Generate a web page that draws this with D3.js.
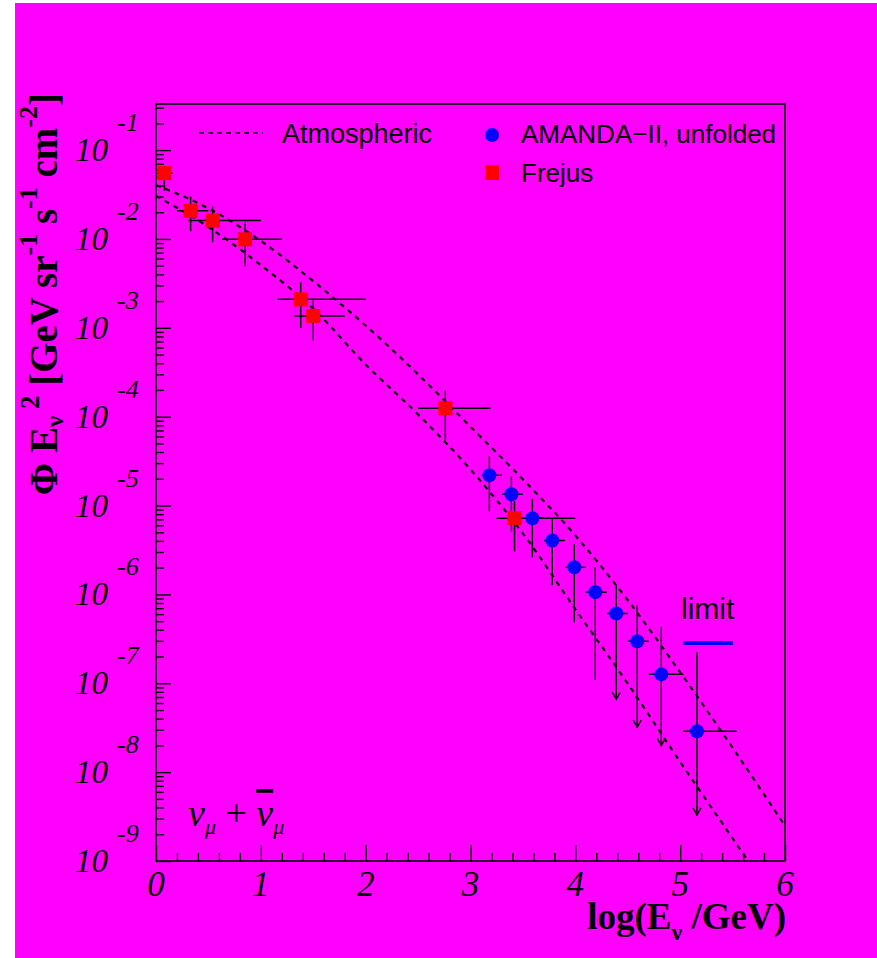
<!DOCTYPE html>
<html><head><meta charset="utf-8">
<script src="https://cdn.jsdelivr.net/npm/d3@7"></script>
<style>body{margin:0;background:#fff} svg{display:block}</style>
</head><body><svg id="c" width="877" height="958"></svg>
<script>
// ---- data ----
const atmLogE   = [0, 0.5, 1, 1.5, 2, 2.5, 3, 3.5, 4, 4.5, 5, 5.5, 6];
const atmUpper  = [4.03e-2, 2.21e-2, 9.5e-3, 3.35e-3, 1.06e-3, 2.99e-4, 7.7e-5, 1.97e-5, 4.6e-6, 8.6e-7, 1.33e-7, 1.88e-8, 2.48e-9];
const atmLower  = [3.05e-2, 1.36e-2, 5.07e-3, 1.64e-3, 3.85e-4, 1.06e-4, 2.54e-5, 4.84e-6, 6.8e-7, 9.9e-8, 1.30e-8, 1.80e-9, 2.5e-10];

const frejusLogE   = [0.08, 0.33, 0.54, 0.85, 1.38, 1.50, 2.76, 3.42];
const frejusLogELo = [0.00, 0.20, 0.31, 0.63, 1.16, 1.32, 2.50, 3.25];
const frejusLogEHi = [0.16, 0.50, 1.00, 1.20, 2.00, 1.80, 3.19, 4.00];
const frejusFlux   = [5.5e-2, 2.07e-2, 1.61e-2, 9.9e-3, 2.09e-3, 1.36e-3, 1.24e-4, 7.2e-6];
const frejusFluxLo = [3.5e-2, 1.22e-2, 9.2e-3, 4.93e-3, 9.9e-4, 7.2e-4, 5.4e-5, 3.05e-6];
const frejusFluxHi = [6.6e-2, 3.0e-2, 2.33e-2, 1.53e-2, 3.25e-3, 2.04e-3, 1.98e-4, 1.12e-5];

const amandaLogE   = [3.18, 3.39, 3.59, 3.78, 3.99, 4.19, 4.39, 4.59, 4.82, 5.16];
const amandaLogELo = [3.11, 3.30, 3.50, 3.70, 3.90, 4.10, 4.30, 4.50, 4.70, 5.03];
const amandaLogEHi = [3.30, 3.50, 3.70, 3.90, 4.10, 4.30, 4.50, 4.70, 5.03, 5.54];
const amandaFlux   = [2.19e-5, 1.34e-5, 7.2e-6, 4.04e-6, 2.02e-6, 1.06e-6, 6.1e-7, 2.97e-7, 1.26e-7, 2.89e-8];
const amandaFluxLo = [8.6e-6, 5.1e-6, 2.62e-6, 1.27e-6, 4.85e-7, 1.08e-7, 6.6e-8, 3.2e-8, 2.0e-8, 3.3e-9];
const amandaFluxHi = [3.58e-5, 2.13e-5, 1.18e-5, 7.0e-6, 3.66e-6, 2.02e-6, 1.27e-6, 7.6e-7, 4.3e-7, 2.23e-7];
const amandaArrow  = [false, false, false, false, false, false, true, true, true, true];

const xTickValues = [0, 1, 2, 3, 4, 5, 6];
const xMinorStep = 0.2;
const yTickExponents = [-1, -2, -3, -4, -5, -6, -7, -8, -9];

// ---- layout ----
const svg = d3.select("#c");
const L = 156, R = 785, T = 104, B = 861;
const x = d3.scaleLinear().domain([0, 6]).range([L, R]);
const y = d3.scaleLog().domain([1e-9, 0.33]).range([B, T]);

const MAG = "#ff00ff";
const serif = "'Liberation Serif','Times New Roman',serif";
const sans = "'Liberation Sans',Arial,Helvetica,sans-serif";

svg.append("rect").attr("x", 15).attr("y", 3).attr("width", 862).attr("height", 955).attr("fill", MAG);

svg.append("defs").append("clipPath").attr("id", "clip")
  .append("rect").attr("x", L).attr("y", T).attr("width", R - L).attr("height", B - T);

// ---- axes ----
const xMinor = d3.range(0, 6 + 1e-9, xMinorStep).filter(v => Math.abs(v - Math.round(v)) > 1e-6);
const gx = svg.append("g").attr("transform", `translate(0,${B})`);
gx.call(d3.axisBottom(x).tickValues(xTickValues).tickSize(-16).tickFormat(""));
const gx2 = svg.append("g").attr("transform", `translate(0,${B})`);
gx2.call(d3.axisBottom(x).tickValues(xMinor).tickSize(-8).tickFormat(""));

const yMajor = yTickExponents.map(e => Math.pow(10, e));
const yMinor = [];
yTickExponents.forEach(e => { for (let k = 2; k <= 9; k++) { const v = k * Math.pow(10, e); if (v < 0.33) yMinor.push(v); } });
const gy = svg.append("g").attr("transform", `translate(${L},0)`);
gy.call(d3.axisLeft(y).tickValues(yMajor).tickSize(-15).tickFormat(""));
const gy2 = svg.append("g").attr("transform", `translate(${L},0)`);
gy2.call(d3.axisLeft(y).tickValues(yMinor).tickSize(-8).tickFormat(""));
svg.selectAll(".domain").remove();
svg.selectAll(".tick line").attr("stroke", "#000").attr("stroke-width", 1.4);

// frame
svg.append("rect").attr("x", L).attr("y", T).attr("width", R - L).attr("height", B - T)
  .attr("fill", "none").attr("stroke", "#000").attr("stroke-width", 1.6);

// x tick labels
svg.append("g").selectAll("text").data(xTickValues).join("text")
  .attr("x", d => x(d)).attr("y", 896).attr("text-anchor", "middle")
  .attr("font-family", serif).attr("font-style", "italic").attr("font-size", 35)
  .text(d => d);

// y tick labels 10^e
const yl = svg.append("g");
yTickExponents.forEach(e => {
  const py = y(Math.pow(10, e));
  yl.append("text").attr("x", 108).attr("y", py + 11).attr("text-anchor", "end")
    .attr("font-family", serif).attr("font-style", "italic").attr("font-size", 33).text("10");
  yl.append("text").attr("x", 117).attr("y", py - 19)
    .attr("font-family", serif).attr("font-style", "italic").attr("font-size", 26).text(String(e));
});

// axis titles
const xt = svg.append("text").attr("x", 786).attr("y", 929).attr("text-anchor", "end")
  .attr("font-family", serif).attr("font-weight", "bold").attr("font-size", 37);
xt.append("tspan").text("log(E");
xt.append("tspan").attr("font-size", 24).attr("dy", 11).text("ν");
xt.append("tspan").attr("dy", -11).text(" /GeV)");

const yt = svg.append("text").attr("transform", "translate(57,93) rotate(-90)").attr("text-anchor", "end")
  .attr("font-family", serif).attr("font-weight", "bold").attr("font-size", 39);
yt.append("tspan").text("Φ E");
yt.append("tspan").attr("font-size", 25).attr("dy", 6).text("ν");
yt.append("tspan").attr("font-size", 27).attr("dy", -24).text(" 2");
yt.append("tspan").attr("dy", 18).text(" [GeV sr");
yt.append("tspan").attr("font-size", 26).attr("dy", -20).text("-1");
yt.append("tspan").attr("dy", 20).text(" s");
yt.append("tspan").attr("font-size", 26).attr("dy", -20).text("-1");
yt.append("tspan").attr("dy", 20).text(" cm");
yt.append("tspan").attr("font-size", 26).attr("dy", -20).text("-2");
yt.append("tspan").attr("dy", 20).text("]");

// ---- curves ----
const plot = svg.append("g").attr("clip-path", "url(#clip)");
const line = d3.line().x(d => x(d[0])).y(d => y(d[1])).curve(d3.curveMonotoneX);
[atmUpper, atmLower].forEach(arr => {
  plot.append("path").datum(atmLogE.map((e, i) => [e, arr[i]]))
    .attr("d", line).attr("fill", "none").attr("stroke", "#000")
    .attr("stroke-width", 2.2).attr("stroke-dasharray", "5,5");
});

// ---- error bars ----
const eb = svg.append("g").attr("stroke", "#000").attr("stroke-width", 1.5);
frejusLogE.forEach((e, i) => {
  eb.append("line").attr("x1", x(frejusLogELo[i])).attr("x2", x(frejusLogEHi[i]))
    .attr("y1", y(frejusFlux[i])).attr("y2", y(frejusFlux[i]));
  eb.append("line").attr("x1", x(e)).attr("x2", x(e))
    .attr("y1", y(frejusFluxLo[i])).attr("y2", y(frejusFluxHi[i]));
});
amandaLogE.forEach((e, i) => {
  eb.append("line").attr("x1", x(amandaLogELo[i])).attr("x2", x(amandaLogEHi[i]))
    .attr("y1", y(amandaFlux[i])).attr("y2", y(amandaFlux[i]));
  eb.append("line").attr("x1", x(e)).attr("x2", x(e))
    .attr("y1", y(amandaFluxLo[i])).attr("y2", y(amandaFluxHi[i]));
  if (amandaArrow[i]) {
    const px = x(e), py = y(amandaFluxLo[i]);
    eb.append("path").attr("fill", "none").attr("d", `M${px - 4},${py - 7}L${px},${py}L${px + 4},${py - 7}`);
  }
});

// ---- markers ----
svg.append("g").selectAll("rect").data(frejusLogE).join("rect")
  .attr("x", (d) => x(d) - 7).attr("y", (d, i) => y(frejusFlux[i]) - 7)
  .attr("width", 14).attr("height", 14).attr("fill", "#ff0000");
svg.append("g").selectAll("circle").data(amandaLogE).join("circle")
  .attr("cx", d => x(d)).attr("cy", (d, i) => y(amandaFlux[i])).attr("r", 7).attr("fill", "#0000ff");

// ---- legend ----
svg.append("line").attr("x1", 199).attr("x2", 263).attr("y1", 133).attr("y2", 133)
  .attr("stroke", "#000").attr("stroke-width", 1.5).attr("stroke-dasharray", "5,4");
svg.append("text").attr("x", 282).attr("y", 143).attr("font-family", sans).attr("font-size", 27).text("Atmospheric");
svg.append("circle").attr("cx", 492).attr("cy", 135).attr("r", 7).attr("fill", "#0000ff");
svg.append("text").attr("x", 521).attr("y", 143).attr("font-family", sans).attr("font-size", 26).text("AMANDA−II, unfolded");
svg.append("rect").attr("x", 485).attr("y", 165).attr("width", 14).attr("height", 15).attr("fill", "#ff0000");
svg.append("text").attr("x", 521).attr("y", 182).attr("font-family", sans).attr("font-size", 26).text("Frejus");

// limit annotation
svg.append("text").attr("x", 681).attr("y", 619).attr("font-family", sans).attr("font-size", 30).text("limit");
svg.append("line").attr("x1", 683).attr("x2", 733).attr("y1", 643).attr("y2", 643)
  .attr("stroke", "#0000ff").attr("stroke-width", 4);

// nu label
const nl = svg.append("text").attr("x", 188).attr("y", 826)
  .attr("font-family", serif).attr("font-style", "italic").attr("font-size", 38);
nl.append("tspan").text("ν");
nl.append("tspan").attr("font-size", 22).attr("dy", 8).text("μ");
nl.append("tspan").attr("dy", -8).attr("font-style", "normal").text(" + ");
nl.append("tspan").attr("style", "text-decoration: overline").text("ν");
nl.append("tspan").attr("font-size", 22).attr("dy", 8).text("μ");
</script>
</body></html>
